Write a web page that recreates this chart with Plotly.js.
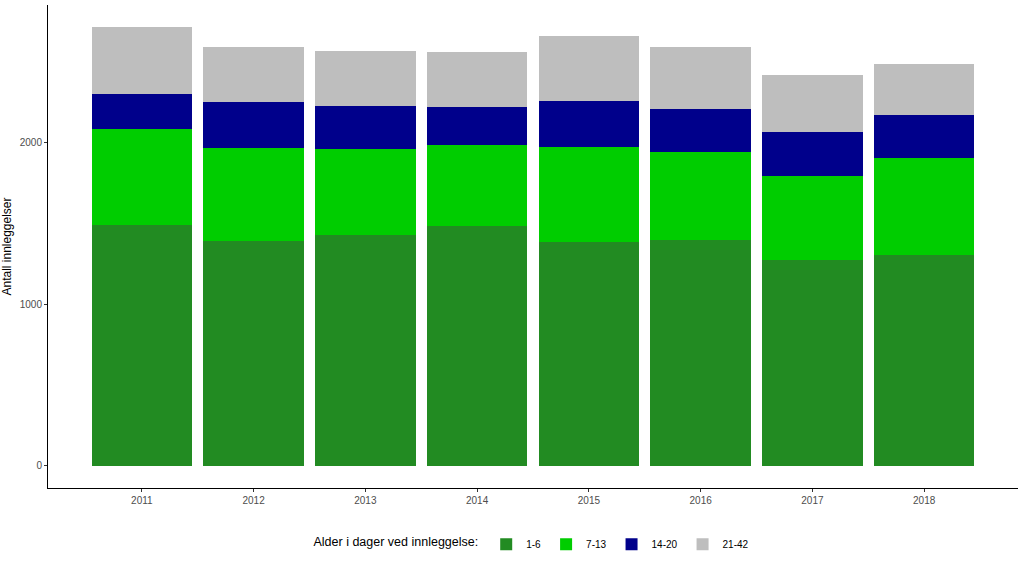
<!DOCTYPE html>
<html>
<head>
<meta charset="utf-8">
<script src="https://cdn.plot.ly/plotly-3.0.1.min.js"></script>
<style>html,body{margin:0;padding:0;background:#fff;}#chart{width:1023px;height:567px;}</style>
</head>
<body>
<div id="chart"></div>
<script>
const years = ['2011','2012','2013','2014','2015','2016','2017','2018'];
const seriesNames = ['1-6','7-13','14-20','21-42'];
const v1to6   = [1490, 1387, 1424, 1484, 1385, 1398, 1274, 1301];
const v7to13  = [592, 578, 535, 501, 588, 540, 519, 602];
const v14to20 = [214, 284, 265, 235, 280, 268, 271, 263];
const v21to42 = [415, 338, 341, 340, 404, 381, 354, 320];
const colors = ['#228B22', '#00CD00', '#00008B', '#BEBEBE'];
const legendTitle = 'Alder i dager ved innleggelse:';
const yTitle = 'Antall innleggelser';

const values = [v1to6, v7to13, v14to20, v21to42];
const traces = values.map((v, i) => ({
  type: 'bar',
  x: years,
  y: v,
  name: seriesNames[i],
  marker: {color: colors[i], line: {width: 0}},
  hoverinfo: 'x+y+name'
}));

const layout = {
  width: 1023, height: 567,
  barmode: 'stack',
  bargap: 0.1,
  paper_bgcolor: '#fff', plot_bgcolor: '#fff',
  font: {family: '"Liberation Sans", Arial, sans-serif', color: '#000'},
  margin: {l: 48, r: 5, t: 5, b: 79},
  xaxis: {
    type: 'category',
    range: [-0.84, 7.84],
    showgrid: false, zeroline: false,
    showline: true, linecolor: '#000', linewidth: 1,
    ticks: 'outside', ticklen: 3, tickcolor: '#333', tickwidth: 1,
    tickfont: {size: 10, color: '#4d4d4d'},
    fixedrange: true
  },
  yaxis: {
    range: [-136, 2848],
    tickvals: [0, 1000, 2000],
    ticktext: ['0', '1000', '2000'],
    showgrid: false, zeroline: false,
    showline: true, linecolor: '#000', linewidth: 1,
    ticks: 'outside', ticklen: 3, tickcolor: '#333', tickwidth: 1,
    tickfont: {size: 10, color: '#4d4d4d'},
    title: {text: yTitle, font: {size: 12, color: '#000'}, standoff: 5},
    fixedrange: true
  },
  showlegend: true,
  legend: {
    orientation: 'h',
    x: 0.5, xanchor: 'center', xref: 'paper',
    y: 0.04, yanchor: 'middle', yref: 'container',
    title: {text: legendTitle, side: 'left', font: {size: 12.5, color: '#000'}},
    font: {size: 10, color: '#000'},
    traceorder: 'normal'
  }
};

Plotly.newPlot('chart', traces, layout, {displayModeBar: false, staticPlot: true});
</script>
</body>
</html>
